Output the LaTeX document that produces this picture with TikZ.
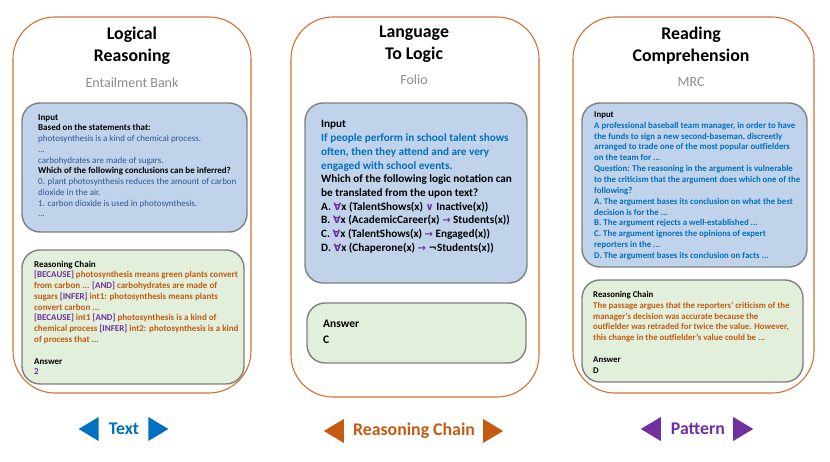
\documentclass[tikz,border=0pt]{standalone}
\usepackage{fontspec}
\setmainfont{Carlito}
\newfontfamily\symfont{DejaVu Sans}
\usetikzlibrary{positioning}

\definecolor{frameorange}{HTML}{D56F33}
\definecolor{boxgray}{HTML}{808080}
\definecolor{inblue}{HTML}{C0D3EA}
\definecolor{chaingreen}{HTML}{E2EFDA}
\definecolor{srcgray}{HTML}{8C8C8C}
\definecolor{txtblue}{HTML}{0070C0}
\definecolor{txtdarkblue}{HTML}{2F5597}
\definecolor{txtorange}{HTML}{C55A11}
\definecolor{txtpurple}{HTML}{7030A0}

\newcommand{\kw}[1]{\textcolor{txtpurple}{#1}}
\newcommand{\lsym}[1]{\textcolor{txtpurple}{{\symfont\fontsize{10}{10}\selectfont #1}}}

\tikzset{
    taskframe/.style={draw=frameorange, line width=1.1pt, rounded corners=42pt},
    inbox/.style={draw=boxgray, line width=1.4pt, rounded corners=18pt, fill=inblue},
    chainbox/.style={draw=boxgray, line width=1.4pt, rounded corners=18pt, fill=chaingreen},
    title/.style={align=center, inner sep=0pt, font=\fontsize{17.8}{22}\selectfont\bfseries},
    source/.style={inner sep=0pt, text=srcgray, font=\fontsize{14}{16}\selectfont},
    smalltext/.style={anchor=north west, inner sep=0pt, align=left, font=\fontsize{9}{10.75}\selectfont},
    bigtext/.style={anchor=north west, inner sep=0pt, align=left, font=\fontsize{11.2}{13.7}\selectfont\bfseries},
    tag/.style={inner sep=0pt, font=\fontsize{17.8}{20}\selectfont\bfseries},
}

\begin{document}
\begin{tikzpicture}[x=1pt, y=-1pt]
    \useasboundingbox (0,0) rectangle (830,462);

    % Logical Reasoning
    \begin{scope}
        \draw[taskframe] (13,17) rectangle (251,393); % frame
        \node[title] (lrtitle) at (132,46) {Logical\\Reasoning};
        \node[source] (lrsrc) at (132,83) {Entailment Bank};

        \draw[inbox] (22,103) rectangle (247,232); % input
        \node[smalltext] (lrin) at (38,114) {%
            \textbf{Input}\\
            \textbf{Based on the statements that:}\\
            \textcolor{txtdarkblue}{photosynthesis is a kind of chemical process.}\\
            \textcolor{txtdarkblue}{...}\\
            \textcolor{txtdarkblue}{carbohydrates are made of sugars.}\\
            \textbf{Which of the following conclusions can be inferred?}\\
            \textcolor{txtdarkblue}{0. plant photosynthesis reduces the amount of carbon}\\
            \textcolor{txtdarkblue}{dioxide in the air.}\\
            \textcolor{txtdarkblue}{1. carbon dioxide is used in photosynthesis.}\\
            \textcolor{txtdarkblue}{...}};

        \draw[chainbox] (22,250) rectangle (244,384); % reasoning chain
        \node[smalltext, font=\fontsize{9}{10.75}\selectfont\bfseries, text=txtorange] (lrchain) at (34,260.5) {%
            \textcolor{black}{Reasoning Chain}\\
            \kw{[BECAUSE]} photosynthesis means green plants convert\\
            from carbon ... \kw{[AND]} carbohydrates are made of\\
            sugars \kw{[INFER]} int1: photosynthesis means plants\\
            convert carbon ...\\
            \kw{[BECAUSE]} int1 \kw{[AND]} photosynthesis is a kind of\\
            chemical process \kw{[INFER]} int2: photosynthesis is a kind\\
            of process that ...\\[11pt]
            \textcolor{black}{Answer}\\
            \kw{2}};
    \end{scope}

    % Language To Logic
    \begin{scope}
        \draw[taskframe] (291,17) rectangle (539,397); % frame
        \node[title] (lltitle) at (414,44) {Language\\To Logic};
        \node[source] (llsrc) at (414,80) {Folio};

        \draw[inbox] (305,103) rectangle (527,283); % input
        \node[bigtext] (llin) at (321,120.5) {%
            Input\\
            \textcolor{txtblue}{If people perform in school talent shows}\\
            \textcolor{txtblue}{often, then they attend and are very}\\
            \textcolor{txtblue}{engaged with school events.}\\
            Which of the following logic notation can\\
            be translated from the upon text?\\
            A. \lsym{∀}x (TalentShows(x) \lsym{∨} Inactive(x))\\
            B. \lsym{∀}x (AcademicCareer(x) \lsym{→} Students(x))\\
            C. \lsym{∀}x (TalentShows(x) \lsym{→} Engaged(x))\\
            D. \lsym{∀}x (Chaperone(x) \lsym{→} {\symfont\fontsize{10}{10}\selectfont ¬}Students(x))};

        \draw[chainbox] (307,303) rectangle (526,363); % answer
        \node[bigtext, font=\fontsize{11.5}{15.5}\selectfont\bfseries] (llans) at (323,320) {%
            Answer\\
            C};
    \end{scope}

    % Reading Comprehension
    \begin{scope}
        \draw[taskframe] (573,17) rectangle (814,393); % frame
        \node[title] (rctitle) at (691,46) {Reading\\Comprehension};
        \node[source] (rcsrc) at (691,82) {MRC};

        \draw[inbox] (582,103) rectangle (807,267); % input
        \node[smalltext, font=\fontsize{8.8}{10.85}\selectfont\bfseries, text=txtblue] (rcin) at (594,111.5) {%
            \textcolor{black}{Input}\\
            A professional baseball team manager, in order to have\\
            the funds to sign a new second-baseman, discreetly\\
            arranged to trade one of the most popular outfielders\\
            on the team for ...\\
            Question: The reasoning in the argument is vulnerable\\
            to the criticism that the argument does which one of the\\
            following?\\
            A. The argument bases its conclusion on what the best\\
            decision is for the ...\\
            B. The argument rejects a well-established ...\\
            C. The argument ignores the opinions of expert\\
            reporters in the ...\\
            D. The argument bases its conclusion on facts ...};

        \draw[chainbox] (582,280) rectangle (803,382); % reasoning chain
        \node[smalltext, font=\fontsize{8.8}{10.85}\selectfont\bfseries, text=txtorange] (rcchain) at (593,291) {%
            \textcolor{black}{Reasoning Chain}\\
            The passage argues that the reporters' criticism of the\\
            manager's decision was accurate because the\\
            outfielder was retraded for twice the value. However,\\
            this change in the outfielder's value could be ...\\[10.85pt]
            \textcolor{black}{Answer}\\
            \textcolor{black}{D}};
    \end{scope}

    % Tags
    \node[tag, text=txtblue] (texttag) at (124,429) {Text};
    \fill[txtblue] ([xshift=-10]texttag.west) ++(0,-12) -- ++(0,24) -- ++(-20,-12) -- cycle;
    \fill[txtblue] ([xshift=9]texttag.east) ++(0,-12) -- ++(0,24) -- ++(20,-12) -- cycle;

    \node[tag, text=txtorange] (chaintag) at (414,431) {Reasoning Chain};
    \fill[txtorange] ([xshift=-9]chaintag.west) ++(0,-12) -- ++(0,24) -- ++(-20,-12) -- cycle;
    \fill[txtorange] ([xshift=8]chaintag.east) ++(0,-12) -- ++(0,24) -- ++(20,-12) -- cycle;

    \node[tag, text=txtpurple] (pattag) at (698,429) {Pattern};
    \fill[txtpurple] ([xshift=-10]pattag.west) ++(0,-12) -- ++(0,24) -- ++(-20,-12) -- cycle;
    \fill[txtpurple] ([xshift=8]pattag.east) ++(0,-12) -- ++(0,24) -- ++(20,-12) -- cycle;

\end{tikzpicture}
\end{document}
